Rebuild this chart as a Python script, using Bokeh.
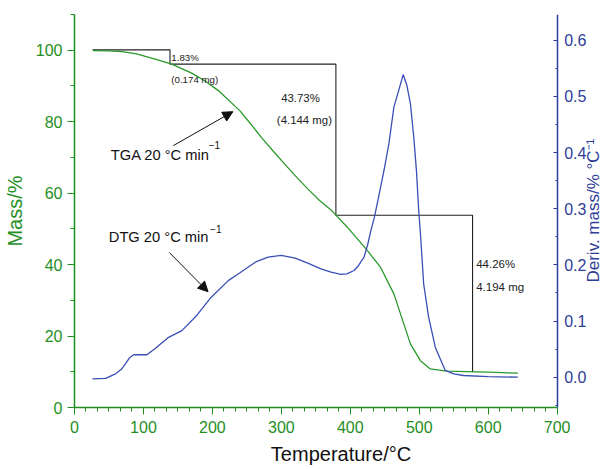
import math
from bokeh.plotting import figure
from bokeh.models import Range1d, LinearAxis, Arrow, NormalHead, SingleIntervalTicker, NumeralTickFormatter
from bokeh.core.properties import value
from bokeh.embed import file_html
from bokeh.resources import INLINE

# ---- data ----
tga_temp = [27, 50, 69, 90, 117, 141, 170, 190, 208.6, 239.7, 255, 271, 288, 304.6, 320, 338.3, 355,
            372, 396, 424.8, 444, 463.2, 477.6, 487.2, 501.7, 516, 540, 600, 643]
tga_mass = [99.9, 99.8, 99.6, 99.0, 97.5, 96.1, 93.6, 91.3, 88.7, 83.1, 79.5, 75.6, 71.8, 68.2, 64.9, 61.2, 58.0,
            55.3, 50.4, 43.9, 39.2, 31.8, 23.4, 17.8, 13.1, 10.8, 10.2, 9.9, 9.6]

dtg_temp = [26, 45, 59.5, 68, 74, 80, 86, 95, 105, 117, 136.5, 155.7, 177.3, 196.5, 223, 240, 263.8, 280.7,
            299.8, 320, 338.3, 357.5, 372, 386.3, 395, 405.5, 412, 419.9, 425, 430, 435, 439.2, 448.8,
            456, 463.2, 470, 476.7, 482, 487.2, 492, 495.9, 499.2, 501.7, 506.4, 513.6, 523.3, 537.7,
            550, 564, 600, 643]
dtg_rate = [-0.003, -0.002, 0.006, 0.014, 0.024, 0.035, 0.040, 0.040, 0.040, 0.051, 0.071, 0.083, 0.110,
            0.140, 0.172, 0.186, 0.206, 0.214, 0.217, 0.212, 0.203, 0.193, 0.187, 0.183, 0.184, 0.190,
            0.199, 0.214, 0.235, 0.262, 0.285, 0.310, 0.368, 0.416, 0.481, 0.510, 0.539, 0.520, 0.487,
            0.428, 0.368, 0.297, 0.256, 0.166, 0.107, 0.053, 0.012, 0.006, 0.003, 0.001, 0.0]

step_temp = [26.2, 138.5, 138.5, 379.1, 379.1, 577.3, 577.3]
step_mass = [100.1, 100.1, 96.1, 96.1, 53.8, 53.8, 9.9]

x_ticks_interval = 100
mass_ticks_interval = 20
dtg_ticks_interval = 0.1
x_axis_end = 700

FONT = "Liberation Sans"
GREEN = "#1f8f1f"
LINE_GREEN = "#2a9a2a"
BLUE = "#2e3d99"
LINE_BLUE = "#3a4fb5"

# the frame runs past 700 so that the right-hand axis (fixed at 700) and its title sit inside it
p = figure(width=607, height=469, output_backend="svg", toolbar_location=None,
           x_range=Range1d(0, 773), y_range=Range1d(0, 110),
           min_border_left=64, min_border_right=0, min_border_top=14, min_border_bottom=62)
p.extra_y_ranges = {"dtg": Range1d(-0.054, 0.646)}
p.grid.visible = False
p.outline_line_color = None
p.background_fill_color = "white"

# x axis
xa = p.xaxis[0]
xa.bounds = (0, x_axis_end)
xa.ticker = SingleIntervalTicker(interval=x_ticks_interval, num_minor_ticks=6)
xa.axis_label = "Temperature/°C"
xa.axis_label_text_font = FONT
xa.axis_label_text_font_size = "20px"
xa.axis_label_text_font_style = "normal"
xa.axis_label_text_color = "#111111"
xa.axis_label_standoff = 7
xa.axis_line_color = GREEN
xa.major_tick_line_color = GREEN
xa.minor_tick_line_color = GREEN
xa.major_tick_out = 7
xa.major_tick_in = 0
xa.minor_tick_out = 4
xa.minor_tick_in = 0
xa.major_label_text_font = FONT
xa.major_label_text_font_size = "16px"
xa.major_label_text_color = GREEN
xa.major_label_standoff = 6
xa.axis_line_width = 1.5

# left axis
ya = p.yaxis[0]
ya.ticker = SingleIntervalTicker(interval=mass_ticks_interval, num_minor_ticks=2)
ya.axis_label = "Mass/%"
ya.axis_label_text_font = FONT
ya.axis_label_text_font_size = "20px"
ya.axis_label_text_font_style = "normal"
ya.axis_label_text_color = GREEN
ya.axis_label_standoff = 7
ya.axis_line_color = GREEN
ya.major_tick_line_color = GREEN
ya.minor_tick_line_color = GREEN
ya.major_tick_out = 7
ya.major_tick_in = 0
ya.minor_tick_out = 4
ya.minor_tick_in = 0
ya.major_label_text_font = FONT
ya.major_label_text_font_size = "16px"
ya.major_label_text_color = GREEN
ya.major_label_standoff = 5
ya.axis_line_width = 1.5

# right axis, pinned at x = 700
ra = LinearAxis(y_range_name="dtg", fixed_location=x_axis_end,
                ticker=SingleIntervalTicker(interval=dtg_ticks_interval, num_minor_ticks=2),
                formatter=NumeralTickFormatter(format="0.0"))
ra.axis_line_color = BLUE
ra.axis_line_width = 1.5
ra.major_tick_line_color = BLUE
ra.minor_tick_line_color = BLUE
ra.major_tick_in = 4
ra.major_tick_out = 0
ra.minor_tick_in = 2
ra.minor_tick_out = 0
ra.major_label_text_font = FONT
ra.major_label_text_font_size = "16px"
ra.major_label_text_color = BLUE
ra.major_label_standoff = 7
p.add_layout(ra, "right")

# right axis title (reads bottom to top)
p.text(x=[752], y=[55.1], text=["Deriv. mass/% °C⁻¹"], angle=math.pi / 2,
       text_font=value(FONT), text_font_size="17px", text_color=BLUE,
       text_align="center", text_baseline="middle")

# step annotation lines
p.line(step_temp, step_mass, line_color="#222222", line_width=1.1)

# curves
p.line(tga_temp, tga_mass, line_color=LINE_GREEN, line_width=1.3)
p.line(dtg_temp, dtg_rate, line_color=LINE_BLUE, line_width=1.3, y_range_name="dtg")

# annotation texts
p.text(x=[140.4, 140.4], y=[98.0, 91.7], text=["1.83%", "(0.174 mg)"],
       text_font=value(FONT), text_font_size="9.7px", text_color="#222222",
       text_align="left", text_baseline="middle")
p.text(x=[327.7, 333.4], y=[86.5, 80.6], text=["43.73%", "(4.144 mg)"],
       text_font=value(FONT), text_font_size="11.4px", text_color="#222222",
       text_align="center", text_baseline="middle")
p.text(x=[582.6, 582.6], y=[40.3, 33.8], text=["44.26%", "4.194 mg"],
       text_font=value(FONT), text_font_size="11.5px", text_color="#222222",
       text_align="left", text_baseline="middle")
p.text(x=[52.6, 49.7], y=[70.8, 47.6], text=["TGA 20 °C min", "DTG 20 °C min"],
       text_font=value(FONT), text_font_size="14.7px", text_color="#111111",
       text_align="left", text_baseline="middle")
p.text(x=[194.7, 196.6], y=[73.6, 50.0], text=["\u22121", "\u22121"],
       text_font=value(FONT), text_font_size="10px", text_color="#111111",
       text_align="left", text_baseline="middle")

# arrows
p.add_layout(Arrow(end=NormalHead(size=10, fill_color="#111111", line_color="#111111"),
                   x_start=143.3, y_start=73.3, x_end=229.7, y_end=82.8,
                   line_color="#111111", line_width=1))
p.add_layout(Arrow(end=NormalHead(size=10, fill_color="#111111", line_color="#111111"),
                   x_start=137.5, y_start=43.4, x_end=193.7, y_end=32.4,
                   line_color="#111111", line_width=1))

open("out.html", "w").write(file_html(p, INLINE))
